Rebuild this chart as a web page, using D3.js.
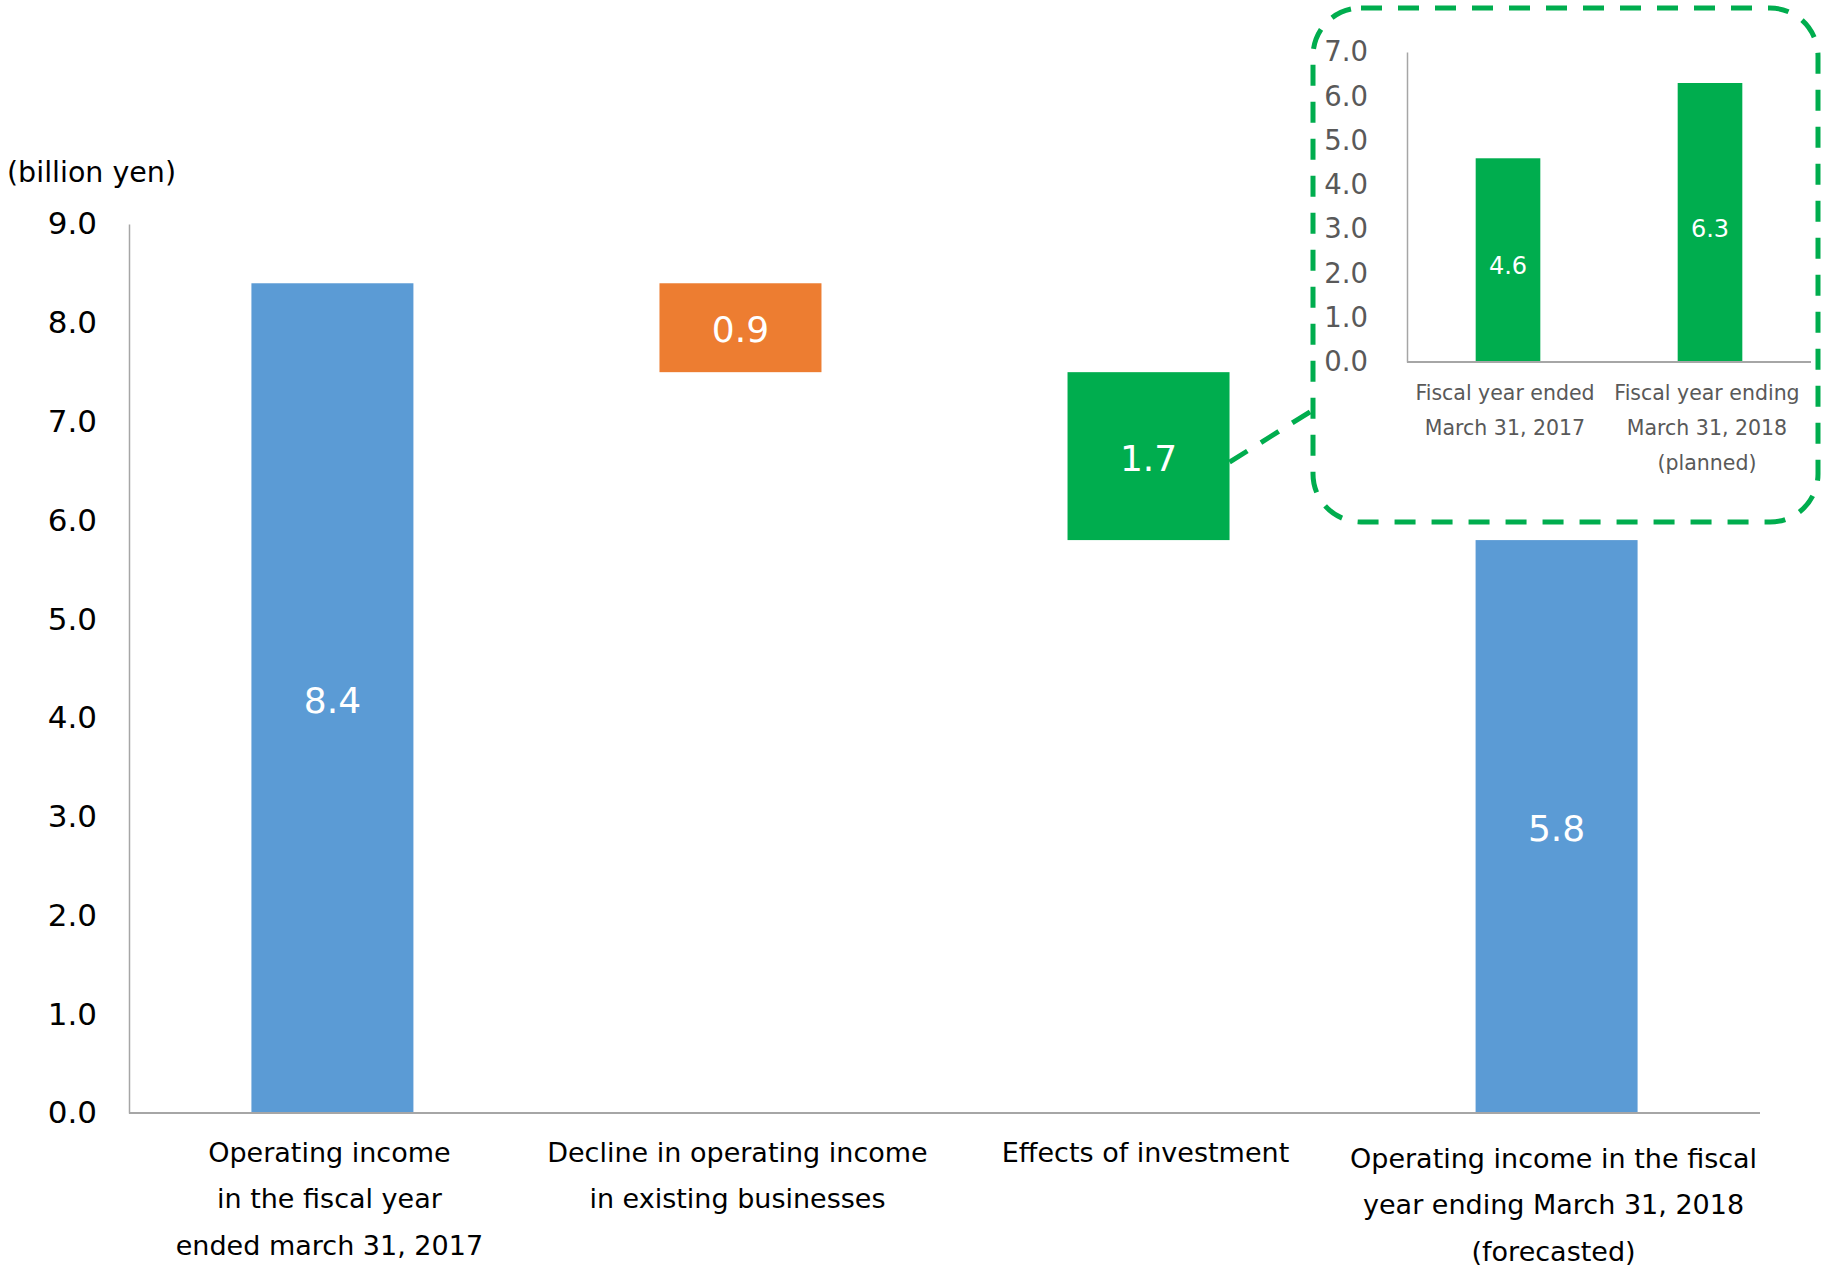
<!DOCTYPE html>
<html>
<head>
<meta charset="utf-8">
<script src="https://cdn.jsdelivr.net/npm/d3@7"></script>
<style>
  html, body { margin: 0; padding: 0; background: #fff; }
  svg { display: block; font-family: "DejaVu Sans", Verdana, sans-serif; }
</style>
</head>
<body>
<svg id="chart" width="1825" height="1268"></svg>
<script>
// ---- Main waterfall data ----
const categories = ["c1", "c2", "c3", "c4"];
const categoryLabels = [
  ["Operating income", "in the fiscal year", "ended march 31, 2017"],
  ["Decline in operating income", "in existing businesses"],
  ["Effects of investment"],
  ["Operating income in the fiscal", "year ending March 31, 2018", "(forecasted)"]
];
const barLow  = [0, 7.5, 5.8, 0];
const barHigh = [8.4, 8.4, 7.5, 5.8];
const barLabels = ["8.4", "0.9", "1.7", "5.8"];
const barKinds = ["total", "decrease", "investment", "total"];
const yTicks = [0, 1, 2, 3, 4, 5, 6, 7, 8, 9];

// ---- Inset data ----
const insetCategories = ["i1", "i2"];
const insetLabels = [
  ["Fiscal year ended", "March 31, 2017"],
  ["Fiscal year ending", "March 31, 2018", "(planned)"]
];
const insetValues = [4.6, 6.3];
const insetTicks = [0, 1, 2, 3, 4, 5, 6, 7];

const colors = { total: "#5B9BD5", decrease: "#ED7D31", investment: "#00AD4E" };
const green = "#00AD4E";
const axisGray = "#A6A6A6";

const svg = d3.select("#chart");

// ---- Main chart ----
const x = d3.scaleBand().domain(categories).range([129, 1760]).paddingInner(0.603).paddingOuter(0.3);
const y = d3.scaleLinear().domain([0, 9]).range([1113, 224]);

const yAxis = d3.axisLeft(y).tickValues(yTicks).tickFormat(d3.format(".1f")).tickSize(0).tickPadding(32);
const gy = svg.append("g").attr("transform", "translate(129,0)").call(yAxis);
gy.select(".domain").attr("stroke", axisGray).attr("stroke-width", 1.5);
gy.selectAll("text").attr("font-size", 31).attr("fill", "#000").attr("font-family", "DejaVu Sans, Verdana, sans-serif");

svg.append("text").attr("x", 7).attr("y", 172).attr("dominant-baseline", "central")
  .attr("font-size", 28.5).attr("fill", "#000").text("(billion yen)");

svg.selectAll(".bar").data(categories).enter().append("rect")
  .attr("x", d => x(d))
  .attr("width", x.bandwidth())
  .attr("y", (d, i) => y(barHigh[i]))
  .attr("height", (d, i) => y(barLow[i]) - y(barHigh[i]))
  .attr("fill", (d, i) => colors[barKinds[i]]);

// baseline
const xAxis = d3.axisBottom(x).tickSize(0).tickFormat("");
const gx = svg.append("g").attr("transform", "translate(0,1113)").call(xAxis);
gx.select(".domain").attr("stroke", axisGray).attr("stroke-width", 2).attr("d", "M129,0H1760");

svg.selectAll(".vlabel").data(categories).enter().append("text")
  .attr("x", d => x(d) + x.bandwidth() / 2)
  .attr("y", (d, i) => (y(barLow[i]) + y(barHigh[i])) / 2 + 2)
  .attr("text-anchor", "middle").attr("dominant-baseline", "central")
  .attr("font-size", 36).attr("fill", "#fff")
  .text((d, i) => barLabels[i]);

const labelTop = [1152, 1152, 1152, 1158];
categories.forEach((c, i) => {
  const t = svg.append("text").attr("text-anchor", "middle").attr("font-size", 27).attr("fill", "#000");
  categoryLabels[i].forEach((line, j) => {
    t.append("tspan").attr("x", x(c) + x.bandwidth() / 2 - 3)
      .attr("y", labelTop[i] + j * 46.5).attr("dominant-baseline", "central").text(line);
  });
});

// ---- Inset chart ----
const xi = d3.scaleBand().domain(insetCategories).range([1407, 1811]).paddingInner(0.68).paddingOuter(0.34);
const yi = d3.scaleLinear().domain([0, 7]).range([362, 52]);

const yiAxis = d3.axisLeft(yi).tickValues(insetTicks).tickFormat(d3.format(".1f")).tickSize(0).tickPadding(39);
const giy = svg.append("g").attr("transform", "translate(1407,0)").call(yiAxis);
giy.select(".domain").attr("stroke", axisGray).attr("stroke-width", 1.5);
giy.selectAll("text").attr("font-size", 27.5).attr("fill", "#595959").attr("font-family", "DejaVu Sans, Verdana, sans-serif");

svg.selectAll(".ibar").data(insetCategories).enter().append("rect")
  .attr("x", d => xi(d)).attr("width", xi.bandwidth())
  .attr("y", (d, i) => yi(insetValues[i]))
  .attr("height", (d, i) => yi(0) - yi(insetValues[i]))
  .attr("fill", green);

const gix = svg.append("g").attr("transform", "translate(0,362)").call(d3.axisBottom(xi).tickSize(0).tickFormat(""));
gix.select(".domain").attr("stroke", axisGray).attr("stroke-width", 2).attr("d", "M1407,0H1811");

svg.selectAll(".ilabel").data(insetCategories).enter().append("text")
  .attr("x", d => xi(d) + xi.bandwidth() / 2)
  .attr("y", (d, i) => (yi(0) + yi(insetValues[i])) / 2 + 6)
  .attr("text-anchor", "middle").attr("dominant-baseline", "central")
  .attr("font-size", 24).attr("fill", "#fff")
  .text((d, i) => insetValues[i].toFixed(1));

insetCategories.forEach((c, i) => {
  const t = svg.append("text").attr("text-anchor", "middle").attr("font-size", 20.5).attr("fill", "#595959");
  insetLabels[i].forEach((line, j) => {
    t.append("tspan").attr("x", xi(c) + xi.bandwidth() / 2 - 3)
      .attr("y", 393 + j * 35).attr("dominant-baseline", "central").text(line);
  });
});

// dashed callout box and connector
svg.append("rect").attr("x", 1313).attr("y", 8).attr("width", 505).attr("height", 514)
  .attr("rx", 48).attr("ry", 48)
  .attr("fill", "none").attr("stroke", green).attr("stroke-width", 5).attr("stroke-dasharray", "21,16");

const barIdx = 2;
const cx0 = x(categories[barIdx]) + x.bandwidth();
const cy0 = (y(barLow[barIdx]) + y(barHigh[barIdx])) / 2 + 6;
svg.append("path").attr("d", `M${cx0},${cy0}L1313,410`)
  .attr("fill", "none").attr("stroke", green).attr("stroke-width", 5).attr("stroke-dasharray", "21,16");
</script>
</body>
</html>
